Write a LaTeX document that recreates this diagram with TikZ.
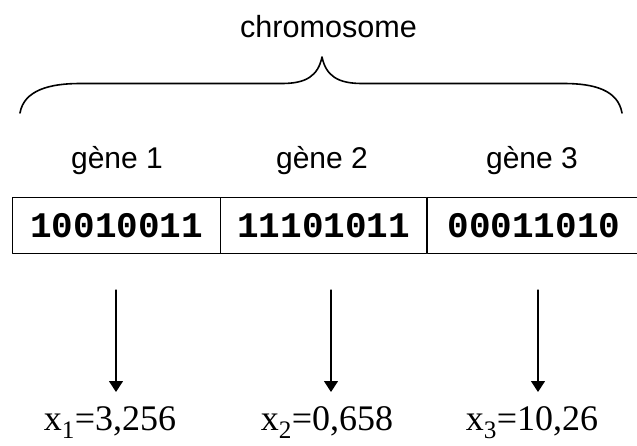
\documentclass[tikz,border=0pt]{standalone}
\usepackage{fontspec}
\setmainfont{Liberation Serif}
\setsansfont{Liberation Sans}
\setmonofont{Liberation Mono}
\usetikzlibrary{arrows.meta}

\begin{document}
\begin{tikzpicture}[
						x=1pt,
						y=-1pt,
						line cap=round,
						line join=round,
						draw=black,
						brace/.style={line width=1.6pt},
						cell/.style={draw, line width=0.9pt, minimum height=56pt, inner sep=0pt,
							font=\fontsize{36}{40}\selectfont\ttfamily\bfseries},
						gene/.style={font=\fontsize{30}{34}\selectfont\sffamily, anchor=base},
						val/.style={font=\fontsize{36}{40}\selectfont\rmfamily, anchor=base, inner sep=1pt},
						arr/.style={line width=1.2pt, -{Triangle[width=14pt,length=11pt]}}
						]
						
						\useasboundingbox (0,0) rectangle (637,445);
						
						% Title and brace
						\node[gene, font=\fontsize{30.6}{34}\selectfont\sffamily] (chrom) at (328.5,37) {chromosome};
						\draw[brace] (20,113) .. controls (24,90) and (50,83.5) .. (80,83.5) -- (282,83.5)
							.. controls (306,83.5) and (318,76) .. (322,57)
							.. controls (326,76) and (338,83.5) .. (362,83.5) -- (564,83.5)
							.. controls (594,83.5) and (618,90) .. (622,113);
						
						% Genes
						\node[gene] (g1) at (117,168) {gène 1};
						\node[gene] (g2) at (322,168) {gène 2};
						\node[gene] (g3) at (532,168) {gène 3};
						
						% Chromosome cells
						\node[cell, minimum width=208pt] (c1) at (116.7,225.5) {10010011};
						\node[cell, minimum width=206pt] (c2) at (323.7,225.5) {11101011};
						\node[cell, minimum width=214pt] (c3) at (534,225.5) {00011010};
						
						% Decoded values
						\node[val] (x1) at (110,430) {x\textsubscript{1}=3,256};
						\node[val] (x2) at (327,430) {x\textsubscript{2}=0,658};
						\node[val] (x3) at (532,430) {x\textsubscript{3}=10,26};
						
						\coordinate (a1) at (116,290);
						\coordinate (a2) at (331,290);
						\coordinate (a3) at (538,290);
						\coordinate (b1) at (116,392);
						\coordinate (b2) at (331,392);
						\coordinate (b3) at (538,392);
						
						\foreach \i in {1,2,3}
						\draw[arr] (a\i) -- (b\i);
						
					\end{tikzpicture}
\end{document}
